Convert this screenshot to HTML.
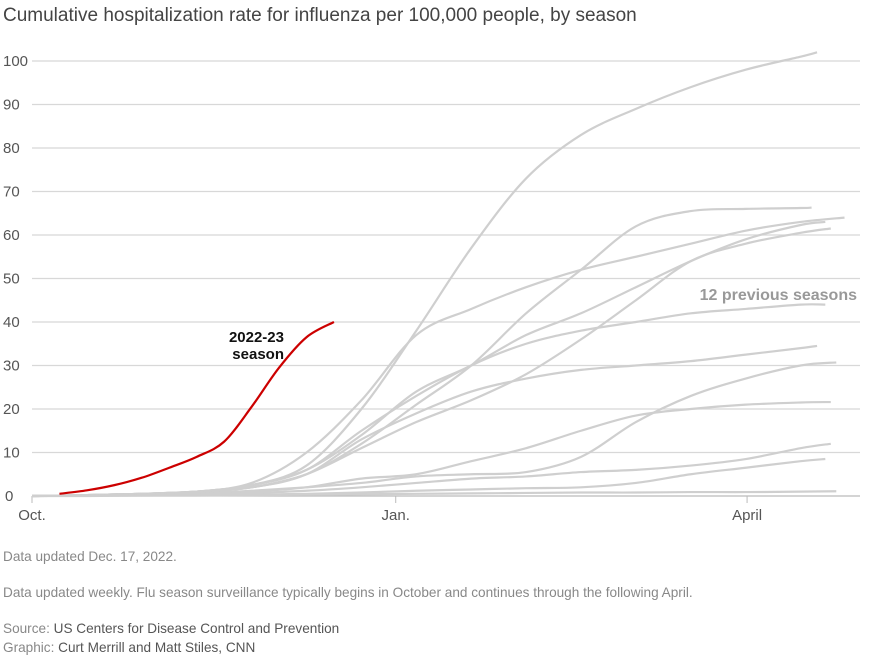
<!DOCTYPE html>
<html><head><meta charset="utf-8">
<style>
body{margin:0;background:#fff;font-family:"Liberation Sans",sans-serif;}
#wrap{position:relative;width:878px;height:660px;overflow:hidden;}
.t{position:absolute;white-space:nowrap;}
</style></head>
<body>
<div id="wrap">
<div class="t" style="left:3px;top:5px;font-size:19px;color:#444;">Cumulative hospitalization rate for influenza per 100,000 people, by season</div>
<svg id="chart" width="878" height="540" style="position:absolute;left:0;top:0"></svg>
<div class="t" style="left:3px;top:549px;font-size:13.6px;color:#888;">Data updated Dec. 17, 2022.</div>
<div class="t" style="left:3px;top:585px;font-size:13.6px;color:#888;">Data updated weekly. Flu season surveillance typically begins in October and continues through the following April.</div>
<div class="t" style="left:3px;top:621px;font-size:13.6px;color:#888;">Source: <span style="color:#555">US Centers for Disease Control and Prevention</span></div>
<div class="t" style="left:3px;top:640px;font-size:13.6px;color:#888;">Graphic: <span style="color:#555">Curt Merrill and Matt Stiles, CNN</span></div>
</div>
<script>
const yTicks=[0,10,20,30,40,50,60,70,80,90,100];
const xTickLabels=["Oct.","Jan.","April"];
const xTickWeeks=[0,13.25,26.05];
const currentWeeks=[1,2,3,4,5,6,7,8,9,10,11];
const currentValues=[0.5,1.3,2.5,4.2,6.5,9,12.5,20.5,29.5,36.5,40];
const prevWeeks=[0,2,4,6,8,10,12,14,16,18,20,22,24,26,28];
const sA=[0,0.2,0.5,1,2.5,7,20,38,57,73,83,89,94,98,101];
const sB=[0,0.2,0.5,1,2,5,12,21,30,42,52,62,65.5,66,66.2];
const sC=[0,0.2,0.5,1,3,10,22,37,43,48,52,55,58,61,63];
const sD=[0,0.2,0.5,1,2.5,6,14,24,30,37,42,48,54,59,62.3];
const sE=[0,0.2,0.4,0.8,2,5,11,17,22,28,36,45,54,58,60.5];
const sF=[0,0.2,0.5,1,2.5,6,15,23,30,35,38,40,42,43,44];
const sG=[0,0.2,0.5,1,2,5,13,19,24,27,29,30,31,32.5,34];
const sH=[0,0.1,0.3,0.6,1.2,2,3,4.5,5,5.5,9,17,23,27,30];
const sI=[0,0.1,0.3,0.5,1,2,4,5,8,11,15,18.5,20,21,21.5];
const sJ=[0,0.1,0.2,0.4,0.7,1.2,2,3,4,4.5,5.5,6,7,8.5,11];
const sK=[0,0.1,0.1,0.2,0.3,0.5,0.8,1.2,1.5,1.8,2,3,5,6.5,8];
const sL=[0,0,0.1,0.1,0.2,0.3,0.4,0.5,0.6,0.7,0.8,0.8,0.9,0.9,1];
const endWeeks=[28.6,28.4,29.6,28.9,29.1,28.9,28.6,29.3,29.1,29.1,28.9,29.3];
const endValues=[102,66.3,64,63,61.5,44,34.5,30.7,21.6,12,8.5,1.1];
const seasons=[sA,sB,sC,sD,sE,sF,sG,sH,sI,sJ,sK,sL];

const NS="http://www.w3.org/2000/svg";
const svg=document.getElementById('chart');
const x=w=>32+w*27.45;
const y=v=>496-v*4.35;
function mk(t,a){const e=document.createElementNS(NS,t);for(const k in a)e.setAttribute(k,a[k]);svg.appendChild(e);return e;}
function smooth(pts){let d="M"+pts[0][0]+","+pts[0][1];for(let i=0;i<pts.length-1;i++){const p0=pts[Math.max(0,i-1)],p1=pts[i],p2=pts[i+1],p3=pts[Math.min(pts.length-1,i+2)];const c1=[p1[0]+(p2[0]-p0[0])/6,p1[1]+(p2[1]-p0[1])/6],c2=[p2[0]-(p3[0]-p1[0])/6,p2[1]-(p3[1]-p1[1])/6];d+=` C${c1[0]},${c1[1]} ${c2[0]},${c2[1]} ${p2[0]},${p2[1]}`;}return d;}

yTicks.forEach(v=>{
  const g=mk('line',{x1:32,x2:860,y1:y(v),y2:y(v),stroke:v===0?'#bbb':'#d8d8d8','stroke-width':1.2});
  
  
  const t=mk('text',{x:v===0?5:3,y:y(v)+5,'text-anchor':'start','font-size':15,fill:'#555','font-family':'Liberation Sans, sans-serif'});
  t.textContent=v;
  
  
});
xTickLabels.forEach((lab,i)=>{
  const tk=mk('line',{x1:x(xTickWeeks[i]),x2:x(xTickWeeks[i]),y1:496,y2:503,stroke:'#bbb'});
  
  
  const t=mk('text',{x:x(xTickWeeks[i]),y:520,'text-anchor':'middle','font-size':15,fill:'#555','font-family':'Liberation Sans, sans-serif'});
  t.textContent=lab;
  
  
});
seasons.forEach((s,i)=>{
  const pts=prevWeeks.map((w,j)=>[x(w),y(s[j])]);
  pts.push([x(endWeeks[i]),y(endValues[i])]);
  const p=mk('path',{d:smooth(pts),fill:'none',stroke:'#cfcfcf','stroke-width':2.2});
  
  
});
const rp=mk('path',{d:smooth(currentWeeks.map((w,j)=>[x(w),y(currentValues[j])])),fill:'none',stroke:'#cc0000','stroke-width':2.2});


const l1=mk('text',{x:284,y:342,'text-anchor':'end','font-size':15,'font-weight':'bold',fill:'#111','font-family':'Liberation Sans, sans-serif'});
l1.textContent='2022-23';


const l2=mk('text',{x:284,y:359,'text-anchor':'end','font-size':15,'font-weight':'bold',fill:'#111','font-family':'Liberation Sans, sans-serif'});
l2.textContent='season';


const l3=mk('text',{x:857,y:300,'text-anchor':'end','font-size':16,'font-weight':'bold',fill:'#999','font-family':'Liberation Sans, sans-serif'});
l3.textContent='12 previous seasons';


</script>
</body></html>
